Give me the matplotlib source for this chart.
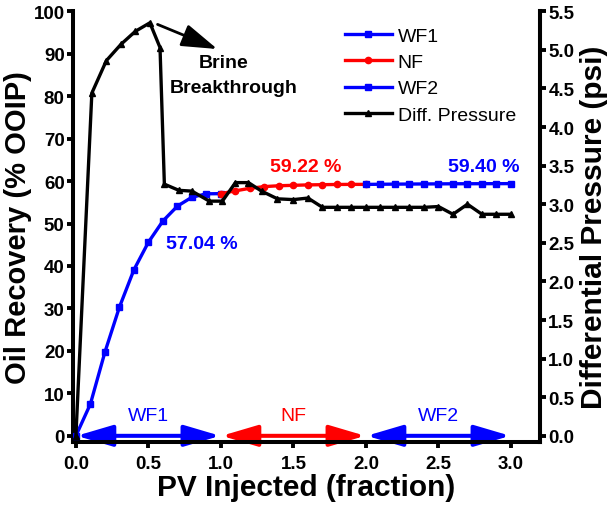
import matplotlib
matplotlib.use("Agg")
import matplotlib.pyplot as plt
from matplotlib.lines import Line2D

plt.rcParams['font.family'] = ['Liberation Sans', 'DejaVu Sans']

# Data
wf1_x = [0.0, 0.1, 0.2, 0.3, 0.4, 0.5, 0.6, 0.7, 0.8, 0.9, 1.0]
wf1_y = [0.0, 7.5, 19.7, 30.3, 39.1, 45.6, 50.6, 54.1, 56.2, 57.0, 57.04]

nf_x = [1.0, 1.1, 1.2, 1.3, 1.4, 1.5, 1.6, 1.7, 1.8, 1.9, 2.0]
nf_y = [57.04, 57.7, 58.3, 58.7, 58.9, 59.0, 59.1, 59.15, 59.2, 59.22, 59.22]

wf2_x = [2.0, 2.1, 2.2, 2.3, 2.4, 2.5, 2.6, 2.7, 2.8, 2.9, 3.0]
wf2_y = [59.22, 59.25, 59.28, 59.3, 59.32, 59.34, 59.36, 59.37, 59.38, 59.39, 59.40]

dp_x = [0.0, 0.11, 0.21, 0.31, 0.41, 0.51, 0.58, 0.61, 0.71, 0.80, 0.92, 1.01,
        1.10, 1.19, 1.28, 1.39, 1.50, 1.60, 1.70, 1.80, 1.90, 2.00, 2.10, 2.20,
        2.30, 2.40, 2.50, 2.60, 2.70, 2.80, 2.90, 3.00]
dp_y = [0.0, 4.44, 4.86, 5.07, 5.24, 5.35, 5.03, 3.26, 3.18, 3.17, 3.04, 3.04,
        3.28, 3.28, 3.17, 3.07, 3.06, 3.08, 2.96, 2.96, 2.96, 2.96, 2.96, 2.96,
        2.96, 2.96, 2.97, 2.87, 3.00, 2.87, 2.87, 2.87]

stages = ["WF1", "NF", "WF2"]
stage_bounds = [(0.0, 1.0), (1.0, 2.0), (2.0, 3.0)]
stage_colors = ["#0000FF", "#FF0000", "#0000FF"]

x_ticks = [0.0, 0.5, 1.0, 1.5, 2.0, 2.5, 3.0]
left_ticks = list(range(0, 101, 10))
right_ticks = [i * 0.5 for i in range(12)]

fig = plt.figure(figsize=(6.15, 5.10), dpi=100)
ax = fig.add_axes([0.1187, 0.131, 0.7593, 0.845])
ax2 = ax.twinx()

lw = 2.4
ax.plot(wf1_x, wf1_y, color="#0000FF", lw=lw, marker="s", ms=4, label="WF1", zorder=3)
ax.plot(nf_x, nf_y, color="#FF0000", lw=lw, marker="o", ms=4.5, label="NF", zorder=3)
ax.plot(wf2_x, wf2_y, color="#0000FF", lw=lw, marker="s", ms=4, label="WF2", zorder=3)
ax2.plot(dp_x, dp_y, color="black", lw=lw, marker="^", ms=4.5, label="Diff. Pressure", zorder=4)

ax.set_xlim(-0.02, 3.2)
ax.set_ylim(-1.5, 100)
ax2.set_ylim(-1.5 * 5.5 / 100, 5.5)
ax.set_xticks(x_ticks)
ax.set_yticks(left_ticks)
ax2.set_yticks(right_ticks)
ax.set_xticklabels([f"{v:.1f}" for v in x_ticks])
ax2.set_yticklabels([f"{v:.1f}" for v in right_ticks])

for a in (ax, ax2):
    a.spines['top'].set_visible(False)
    for s in a.spines.values():
        s.set_linewidth(2.9)
    a.tick_params(width=2.8, length=4, labelsize=13.5, direction='out', pad=2)
    for lab in a.get_xticklabels() + a.get_yticklabels():
        lab.set_fontweight('bold')
ax.tick_params(axis='x', pad=5)
ax2.spines['left'].set_visible(False)
ax2.spines['bottom'].set_visible(False)

ax.set_xlabel("PV Injected (fraction)", fontsize=21.5, fontweight='bold', labelpad=1)
ax.set_ylabel("Oil Recovery (% OOIP)", fontsize=21, fontweight='bold', labelpad=1)
ax2.set_ylabel("Differential Pressure (psi)", fontsize=21.5, fontweight='bold', labelpad=4)

# stage double arrows
for name, (x0, x1), c in zip(stages, stage_bounds, stage_colors):
    ax.annotate("", xy=(x0 + 0.005, 0), xytext=(x1 - 0.005, 0),
                arrowprops=dict(arrowstyle="<|-|>,head_length=2.2,head_width=0.65",
                                color=c, lw=2.9, shrinkA=0, shrinkB=0), zorder=2)
    ax.text((x0 + x1) / 2, 4.7, name, color=c, fontsize=14, ha='center', va='center')

# value labels
ax.text(0.87, 45.2, "57.04 %", color="#0000FF", fontsize=14, fontweight='bold', ha='center', va='center')
ax.text(1.585, 63.5, "59.22 %", color="#FF0000", fontsize=14, fontweight='bold', ha='center', va='center')
ax.text(2.81, 63.5, "59.40 %", color="#0000FF", fontsize=14, fontweight='bold', ha='center', va='center')

# Brine breakthrough annotation
ax.annotate("", xy=(0.975, 91.1), xytext=(0.563, 96.9),
            arrowprops=dict(arrowstyle="-|>,head_length=2.2,head_width=0.7", color="black",
                            lw=2.0, shrinkA=0, shrinkB=0))
ax.text(1.02, 88.0, "Brine", fontsize=14, fontweight='bold', ha='center', va='center')
ax.text(0.65, 82.1, "Breakthrough", fontsize=14, fontweight='bold', ha='left', va='center')

handles = [
    Line2D([], [], color="#0000FF", lw=lw, marker="s", ms=4),
    Line2D([], [], color="#FF0000", lw=lw, marker="o", ms=4.5),
    Line2D([], [], color="#0000FF", lw=lw, marker="s", ms=4),
    Line2D([], [], color="black", lw=lw, marker="^", ms=4.5),
]
ax.legend(handles, ["WF1", "NF", "WF2", "Diff. Pressure"], loc='upper left',
          bbox_to_anchor=(345 / 615, 1 - 28 / 510), bbox_transform=fig.transFigure,
          frameon=False, fontsize=14, handlelength=2.4, handletextpad=0.3,
          labelspacing=0.45, borderaxespad=0, borderpad=0)

fig.savefig("out.png", dpi=100)
